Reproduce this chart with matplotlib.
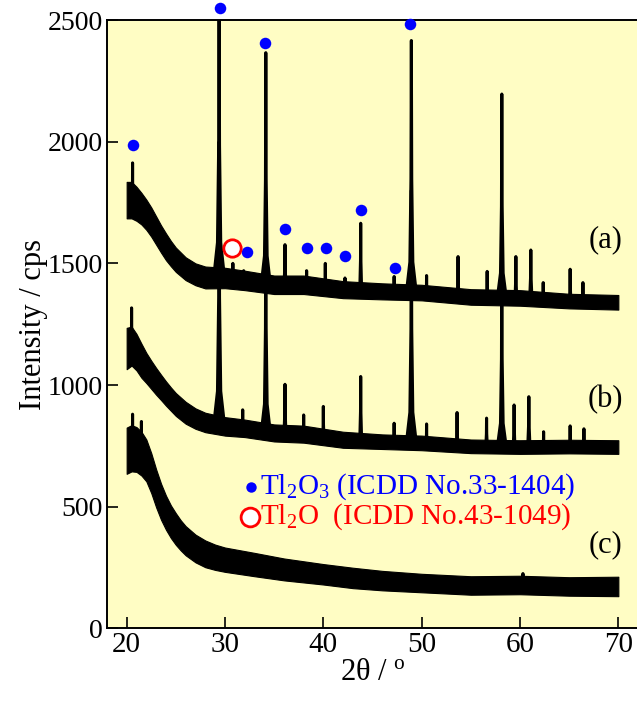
import numpy as np
import matplotlib.pyplot as plt

plt.rcParams['font.family'] = ['Liberation Serif', 'DejaVu Serif']
plt.rcParams['mathtext.fontset'] = 'custom'
plt.rcParams['mathtext.rm'] = 'Liberation Serif'
plt.rcParams['mathtext.it'] = 'Liberation Serif:italic'

# background (centre line and noise half-width) of each pattern
a_bg_x = [20, 20.5, 21, 21.5, 22, 22.5, 23, 23.5, 24, 24.5, 25, 26, 27, 28, 30, 32, 35, 38, 42, 46,
          50, 55, 60, 65, 70]
a_bg_y = [1760, 1760, 1745, 1725, 1700, 1670, 1635, 1600, 1568, 1540, 1515, 1478, 1455, 1442, 1440,
          1430, 1412, 1412, 1392, 1385, 1380, 1362, 1358, 1345, 1340]
a_noise = [75, 75, 70, 65, 62, 60, 58, 56, 55, 52, 50, 47, 45, 45, 42, 40, 38, 38, 35, 33, 32, 32,
           32, 30, 30]

b_bg_x = [20, 20.5, 21, 21.5, 22, 22.5, 23, 23.5, 24, 24.5, 25, 26, 27, 28, 30, 32, 35, 38, 42, 46,
          50, 55, 60, 65, 70]
b_bg_y = [1150, 1160, 1135, 1100, 1070, 1042, 1015, 990, 965, 942, 920, 886, 862, 846, 830, 822, 803,
          798, 775, 767, 762, 748, 745, 747, 745]
b_noise = [85, 80, 75, 70, 62, 58, 55, 52, 50, 48, 47, 45, 42, 40, 38, 36, 35, 35, 33, 30, 30, 28,
           28, 28, 28]

c_bg_x = [20, 20.5, 21, 21.5, 22, 22.5, 23, 23.5, 24, 24.5, 25, 25.5, 26, 27, 28, 29, 30, 33, 36, 40,
          43, 46, 50, 55, 60, 65, 70]
c_bg_y = [730, 740, 735, 718, 690, 638, 575, 520, 475, 438, 408, 382, 360, 328, 306, 292, 282, 262,
          242, 222, 207, 196, 186, 176, 178, 172, 172]
c_noise = [95, 95, 92, 90, 86, 82, 78, 74, 70, 67, 65, 62, 60, 57, 55, 52, 50, 48, 45, 42, 42, 40,
           38, 38, 38, 38, 40]

# peaks: position (deg), top intensity (cps), half width at the foot (deg)
a_pk_pos = [20.6, 29.4, 30.8, 31.9, 34.15, 36.1, 38.3, 40.2, 42.2, 43.8, 47.2, 48.95, 50.5, 53.7,
            56.66, 58.15, 59.58, 61.1, 62.36, 65.1, 66.4]
a_pk_top = [1913, 2650, 1500, 1470, 2366, 1577, 1470, 1500, 1440, 1665, 1446, 2416, 1450, 1528,
            1467, 2196, 1528, 1555, 1421, 1476, 1421]
a_pk_w = [0.12, 0.55, 0.2, 0.15, 0.45, 0.25, 0.15, 0.15, 0.15, 0.25, 0.2, 0.5, 0.15, 0.2,
          0.2, 0.45, 0.22, 0.3, 0.15, 0.2, 0.15]

b_pk_pos = [20.5, 29.4, 31.8, 34.15, 36.1, 38.0, 40.0, 43.8, 47.2, 48.95, 50.5, 53.6, 56.6, 58.15,
            59.4, 60.9, 62.4, 65.1, 66.5]
b_pk_top = [1317, 2000, 898, 1750, 1003, 877, 912, 1035, 843, 1800, 840, 887, 864, 1550,
            918, 952, 808, 832, 820]
b_pk_w = [0.12, 0.55, 0.15, 0.45, 0.25, 0.15, 0.15, 0.25, 0.2, 0.5, 0.15, 0.2, 0.2, 0.45,
          0.22, 0.3, 0.15, 0.2, 0.15]

c_pk_pos = [20.6, 21.5, 60.3]
c_pk_top = [880, 850, 225]
c_pk_w = [0.1, 0.1, 0.2]

# phase markers
tl2o3_x = [20.6, 29.5, 34.1, 32.2, 36.1, 38.35, 40.3, 42.2, 43.8, 47.25, 48.8]
tl2o3_y = [1985, 2548, 2405, 1545, 1640, 1562, 1562, 1530, 1718, 1483, 2482]
tl2o_x = [30.7]
tl2o_y = [1562]

labels = ['(a)', '(b)', '(c)']
label_y = [1598, 941, 343]

fig = plt.figure(figsize=(6.37, 7.04), dpi=100)
ax = fig.add_axes([107 / 637, 75.7 / 704, 531 / 637, 608.2 / 704])
ax.set_facecolor('#fffdc4')


def draw_pattern(bg_x, bg_y, noise, pk_pos, pk_top, pk_w):
    bg_x = np.array(bg_x)
    bg_y = np.array(bg_y)
    noise = np.array(noise)
    ax.fill_between(bg_x, bg_y - noise, bg_y + noise, color='k', lw=0.8, zorder=2)
    for p, top, w in zip(pk_pos, pk_top, pk_w):
        base = np.interp(p, bg_x, bg_y)
        h = top - base
        px = [p - w, p - 0.3 * w, p - 0.08 * w, p, p + 0.08 * w, p + 0.3 * w, p + w]
        py = [base, base + 0.12 * h, base + 0.45 * h, top, base + 0.45 * h, base + 0.12 * h, base]
        ax.fill(px, py, color='k', lw=2.2, joinstyle='round', zorder=3)


draw_pattern(a_bg_x, a_bg_y, a_noise, a_pk_pos, a_pk_top, a_pk_w)
draw_pattern(b_bg_x, b_bg_y, b_noise, b_pk_pos, b_pk_top, b_pk_w)
draw_pattern(c_bg_x, c_bg_y, c_noise, c_pk_pos, c_pk_top, c_pk_w)

ax.plot(tl2o3_x, tl2o3_y, 'o', color='#0000ff', ms=8.3, mec='none', clip_on=False, zorder=5)
ax.plot(tl2o_x, tl2o_y, 'o', mfc='white', mec='#ff0000', mew=2, ms=12.5, clip_on=False, zorder=5)

for lab, y in zip(labels, label_y):
    ax.text(68.7, y, lab, fontsize=22, ha='center', va='center')

# phase key
ax.plot([32.6], [582], 'o', color='#0000ff', ms=7.5, mec='none')
ax.plot([32.5], [458], 'o', mfc='white', mec='#ff0000', mew=2, ms=13.5)
ax.text(33.6, 582, 'Tl$_2$O$_3$ (ICDD No.33-1404)', color='#0000ff', fontsize=21, va='center')
ax.text(33.6, 458, 'Tl$_2$O  (ICDD No.43-1049)', color='#ff0000', fontsize=21, va='center')

ax.set_xlim(18, 72)
ax.set_ylim(0, 2500)
ax.set_xticks([20, 30, 40, 50, 60, 70])
ax.set_yticks([0, 500, 1000, 1500, 2000, 2500])
ax.tick_params(direction='in', length=8, width=1.2, pad=3)
ax.tick_params(axis='x', labelsize=21)
ax.tick_params(axis='y', labelsize=20)
for s in ax.spines.values():
    s.set_linewidth(1.4)

ax.set_xlabel('2θ / $^{\\rm o}$', fontsize=22, labelpad=0)
ax.set_ylabel('Intensity / cps', fontsize=22, labelpad=0)

fig.savefig('out.png', dpi=100)
